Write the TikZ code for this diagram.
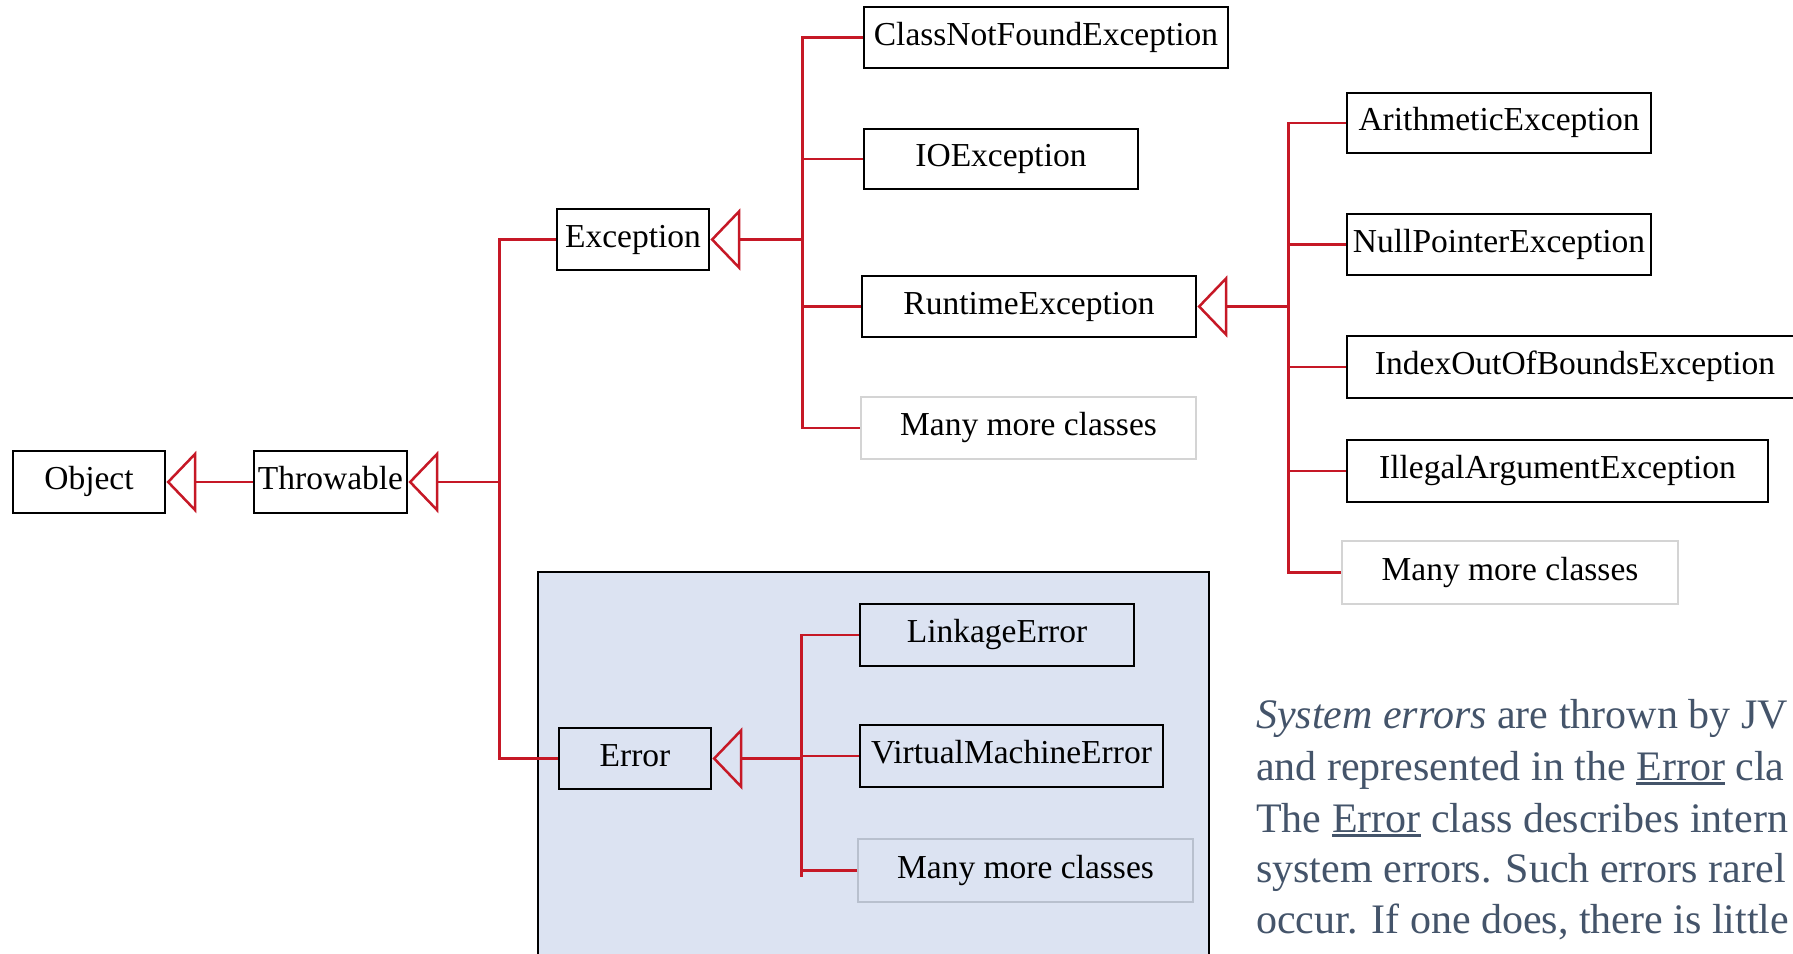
\documentclass[tikz,border=0pt]{standalone}
\usepackage{fontspec}
\setmainfont{Liberation Serif}
\usetikzlibrary{arrows.meta,calc}
\definecolor{umlred}{RGB}{198,24,38}
\definecolor{panelblue}{RGB}{220,227,242}
\definecolor{paratext}{RGB}{68,84,106}
\definecolor{lightborder}{RGB}{212,212,212}
\definecolor{panelborder}{RGB}{184,192,206}
\newcommand\ulword[1]{\setbox0\hbox{#1}\rlap{\rule[-5pt]{\wd0}{2.8pt}}#1}
\begin{document}
\begin{tikzpicture}[x=1pt,y=-1pt,
  cls/.style={draw=black, line width=2.8pt, inner sep=0pt, text height=24pt, text depth=9pt,
              font=\fontsize{33.5}{40}\selectfont},
  more/.style={cls, draw=lightborder, line width=1.2pt},
  moreb/.style={cls, draw=panelborder, line width=1.2pt},
  link/.style={draw=umlred, line width=2.5pt},
  inh/.style={link, -{Triangle[open, length=30pt, width=62pt]}},
  para/.style={inner sep=0pt, anchor=base west, text=paratext, font=\fontsize{42}{51}\selectfont},
]
\useasboundingbox (0,0) rectangle (1793,953);
\fill[white] (0,0) rectangle (1793,953);
% panel for errors
\draw[fill=panelblue, line width=2.6pt] (538,572) rectangle (1209,1000);

% class boxes
\node[cls, minimum width=152pt, minimum height=62pt] (obj) at (89,482) {Object};
\node[cls, minimum width=153pt, minimum height=62pt] (thr) at (330.5,482) {Throwable};
\node[cls, minimum width=152pt, minimum height=61pt] (exc) at (633,239.5) {Exception};
\node[cls, minimum width=364pt, minimum height=61pt] (cnf) at (1046,37.5) {ClassNotFoundException};
\node[cls, minimum width=274pt, minimum height=60pt] (ioe) at (1001,159) {IOException};
\node[cls, minimum width=334pt, minimum height=61pt] (rte) at (1029,306.5) {RuntimeException};
\node[more, fill=white, minimum width=335pt, minimum height=62pt] (mm1) at (1028.5,428) {Many more classes};
\node[cls, minimum width=304pt, minimum height=60pt] (ari) at (1499,123) {ArithmeticException};
\node[cls, minimum width=304pt, minimum height=61pt] (npe) at (1499,244.5) {NullPointerException};
\node[cls, minimum width=456pt, minimum height=62pt] (ioob) at (1575,367) {IndexOutOfBoundsException};
\node[cls, minimum width=421pt, minimum height=62pt] (iae) at (1557.5,471) {IllegalArgumentException};
\node[more, fill=white, minimum width=336pt, minimum height=63pt] (mm2) at (1510,572.5) {Many more classes};
\node[cls, minimum width=152pt, minimum height=61pt] (err) at (635,758.5) {Error};
\node[cls, minimum width=274pt, minimum height=62pt] (lnk) at (997,635) {LinkageError};
\node[cls, minimum width=303pt, minimum height=62pt] (vme) at (1011.5,756) {VirtualMachineError};
\node[moreb, minimum width=335pt, minimum height=63pt] (mm3) at (1025.5,870.5) {Many more classes};

% trunk points
\coordinate (t1) at ($(thr.east)+(91,0)$);
\coordinate (t2) at ($(exc.east)+(92,0)$);
\coordinate (t3) at ($(rte.east)+(91,0)$);
\coordinate (t4) at ($(err.east)+(89,0)$);

% inheritance arrows
\draw[inh] (thr.west) -- (obj.east);
\draw[inh] (t1) -- (thr.east);
\draw[inh] (t2) -- (exc.east);
\draw[inh] (t3) -- (rte.east);
\draw[inh] (t4) -- (err.east);

% Throwable children
\draw[link] (exc.west) -- (exc.west -| t1) -- (err.west -| t1) -- (err.west);

% Exception children
\draw[link] (cnf.west) -- (cnf.west -| t2) -- (mm1.west -| t2) -- (mm1.west);
\draw[link] (ioe.west) -- (ioe.west -| t2);
\draw[link] (rte.west) -- (rte.west -| t2);

% RuntimeException children
\draw[link] (ari.west) -- (ari.west -| t3) -- (mm2.west -| t3) -- (mm2.west);
\draw[link] (npe.west) -- (npe.west -| t3);
\draw[link] (ioob.west) -- (ioob.west -| t3);
\draw[link] (iae.west) -- (iae.west -| t3);

% Error children
\draw[link] (lnk.west) -- (lnk.west -| t4) -- ($(mm3.west -| t4)+(0,6)$);
\draw[link] (vme.west) -- (vme.west -| t4);
\draw[link] (mm3.west) -- (mm3.west -| t4);

% explanatory text (cut at the right edge as in the reference)
\node[para] (p1) at (1256,728) {\textit{System errors} are thrown by JV};
\node[para] (p2) at (1256,780) {and represented in the \ulword{Error} cla};
\node[para] (p3) at (1256,832) {The \ulword{Error} class describes intern};
\node[para] (p4) at (1256,882) {system errors. Such errors rarel};
\node[para] (p5) at (1256,933) {occur. If one does, there is little};
\end{tikzpicture}
\end{document}
